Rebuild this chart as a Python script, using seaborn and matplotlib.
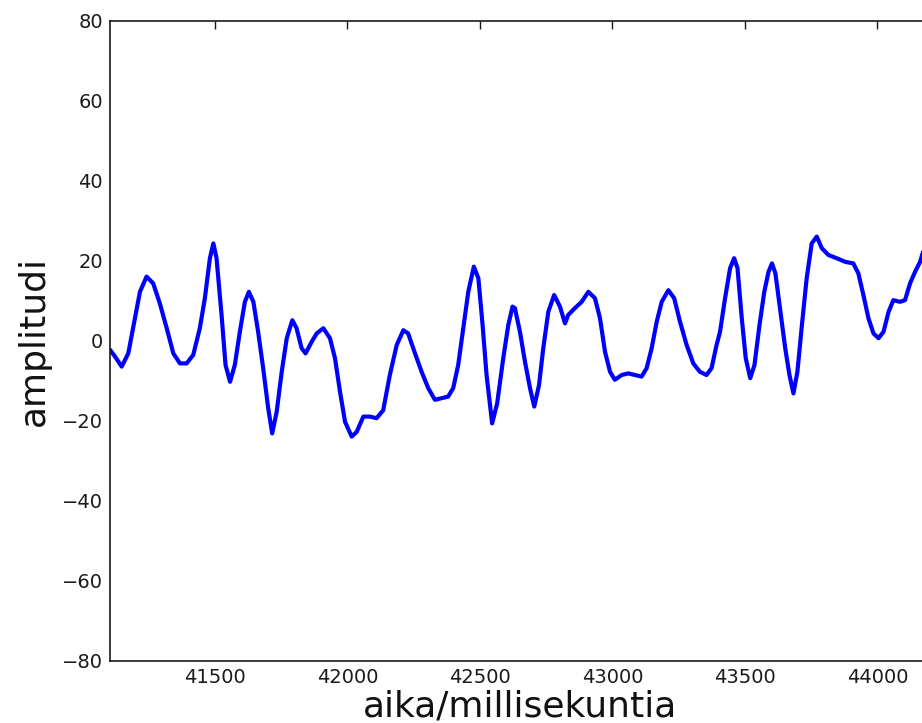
import matplotlib
matplotlib.use("Agg")
import matplotlib.pyplot as plt
import numpy as np
import pandas as pd
import seaborn as sns

# signal (time in ms, amplitude)
aika = [41104, 41123, 41148, 41173, 41198, 41217, 41242, 41267, 41292, 41318,
        41343, 41368, 41393, 41418, 41443, 41462, 41481, 41494, 41506, 41525,
        41540, 41557, 41575, 41594, 41613, 41628, 41645, 41663, 41682, 41701,
        41716, 41733, 41752, 41771, 41792, 41808, 41827, 41842, 41865, 41884,
        41909, 41934, 41953, 41972, 41991, 42016, 42035, 42060, 42085, 42110,
        42135, 42160, 42186, 42211, 42229, 42255, 42280, 42305, 42330, 42355,
        42380, 42399, 42418, 42437, 42456, 42477, 42494, 42510, 42525, 42546,
        42565, 42588, 42607, 42623, 42632, 42651, 42670, 42689, 42705, 42723,
        42739, 42758, 42780, 42802, 42821, 42833, 42858, 42884, 42909, 42934,
        42953, 42972, 42991, 43009, 43035, 43060, 43085, 43110, 43129, 43148,
        43167, 43186, 43211, 43233, 43255, 43280, 43305, 43330, 43355, 43374,
        43393, 43406, 43425, 43444, 43459, 43472, 43488, 43503, 43520, 43536,
        43555, 43573, 43589, 43602, 43615, 43634, 43652, 43668, 43683, 43698,
        43715, 43733, 43752, 43771, 43790, 43815, 43846, 43878, 43909, 43928,
        43947, 43966, 43985, 44004, 44023, 44042, 44060, 44085, 44104, 44123,
        44142, 44161, 44174]
amplitudi = [-2.2, -3.9, -6.4, -3.1, 5.7, 12.3, 16.1, 14.4, 9.4, 3.2,
             -3.1, -5.6, -5.6, -3.5, 3.2, 10.7, 20.7, 24.4, 20.7, 6.5,
             -6.0, -10.2, -6.0, 2.3, 9.8, 12.3, 9.8, 2.3, -6.8, -16.8,
             -23.1, -17.7, -7.7, 0.7, 5.2, 3.2, -1.8, -3.1, -0.2, 1.9,
             3.2, 0.7, -4.3, -12.7, -20.2, -23.9, -22.7, -18.9, -18.9, -19.3,
             -17.3, -8.5, -1.0, 2.7, 1.9, -3.1, -7.7, -11.8, -14.7, -14.3,
             -13.9, -11.8, -6.0, 3.2, 12.3, 18.6, 15.7, 4.0, -8.5, -20.6,
             -15.6, -4.3, 4.0, 8.6, 8.2, 2.3, -5.2, -11.8, -16.4, -11.0,
             -1.8, 7.3, 11.5, 8.6, 4.4, 6.5, 8.2, 9.8, 12.3, 10.7,
             5.7, -2.7, -7.7, -9.7, -8.5, -8.1, -8.5, -8.9, -6.8, -1.8,
             4.8, 9.8, 12.7, 10.7, 4.8, -1.0, -5.6, -7.7, -8.5, -6.8,
             -1.0, 2.3, 10.7, 18.2, 20.7, 18.2, 5.7, -4.3, -9.3, -6.0,
             4.0, 12.3, 17.3, 19.4, 16.9, 7.3, -1.8, -8.5, -13.1, -7.7,
             4.0, 15.7, 24.4, 26.1, 23.2, 21.5, 20.7, 19.8, 19.4, 16.9,
             11.5, 5.7, 1.9, 0.7, 2.3, 7.3, 10.2, 9.8, 10.2, 14.4,
             17.3, 19.8, 22.7]
xticks = [41500, 42000, 42500, 43000, 43500, 44000]
yticks = [-80, -60, -40, -20, 0, 20, 40, 60, 80]

df = pd.DataFrame({"aika": aika, "amplitudi": amplitudi})

sns.set_style("white")
plt.rcParams["font.family"] = ["DejaVu Sans"]

fig = plt.figure(figsize=(9.22, 7.23), dpi=100)
# axes runs past the right edge, like the cropped original
ax = fig.add_axes([110 / 922, 62 / 723, 820 / 922, 640 / 723])

sns.lineplot(data=df, x="aika", y="amplitudi", color="#0000ff",
             linewidth=3.0, estimator=None, sort=False, ax=ax)

ax.set_xlim(41104, 41104 + 820 / 0.265)
ax.set_ylim(-80, 80)
ax.set_xticks(xticks)
ax.set_yticks(yticks)
ax.tick_params(direction="in", length=6, width=1, top=True, right=True,
               labelsize=14, pad=5, colors="#1a1a1a")
for s in ax.spines.values():
    s.set_linewidth(1.2)
    s.set_color("#1a1a1a")

ax.set_xlabel("aika/millisekuntia", fontsize=26, labelpad=2, color="#111111")
ax.set_ylabel("amplitudi", fontsize=26, labelpad=8, color="#111111")

fig.savefig("out.png", dpi=100)
